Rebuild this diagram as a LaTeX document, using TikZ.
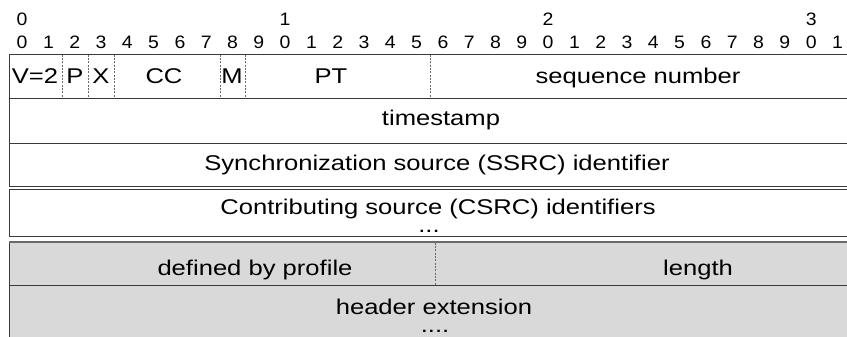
\documentclass[tikz,border=0pt]{standalone}
\usepackage{fontspec}
\setmainfont{Liberation Sans}
\definecolor{linec}{HTML}{3A3A3A}
\definecolor{sepc}{HTML}{6A6A6A}
\definecolor{shade}{HTML}{D9D9D9}
\newcommand{\wide}[1]{\scalebox{1.2}[1]{#1}}
\newcommand{\wdig}[1]{\scalebox{1.08}[1]{#1}}
\begin{document}
\begin{tikzpicture}[x=0.75pt,y=-0.75pt,
  txt/.style={inner sep=0pt, anchor=base, font=\fontsize{16}{18}\selectfont, text=black},
  dig/.style={inner sep=0pt, anchor=base, font=\fontsize{13.5}{15}\selectfont, text=black},
  rowbox/.style={draw=linec, line width=0.75pt},
  sepline/.style={draw=sepc, line width=0.5pt, dash pattern=on 1.5pt off 1pt}]
\useasboundingbox (0,0) rectangle (847,336);
\clip (0,0) rectangle (847,336);
% bit numbers
\foreach \i in {0,...,31}{
  \pgfmathtruncatemacro{\d}{mod(\i,10)}
  \node[dig] (b\i) at ({9+26.3*(\i+0.5)},48) {\wdig{\d}};
}
\foreach \i/\t in {0/0,10/1,20/2,30/3}{
  \node[dig] (t\i) at ({9+26.3*(\i+0.5)},25) {\wdig{\t}};
}
% rows
\draw[rowbox] (9,54) rectangle (870,98);
\draw[rowbox] (9,98) rectangle (870,143);
\draw[rowbox] (9,143) rectangle (870,186.5);
\draw[rowbox] (9,189) rectangle (870,236);
\draw[rowbox, fill=shade] (9,242) rectangle (870,285);
\draw[rowbox, fill=shade] (9,285) rectangle (870,345);
\draw[draw=sepc, line width=1pt] (9,242) -- (870,242);
% separators row 1
\foreach \x in {62,88,114,220,245.6,430}{
  \draw[sepline] (\x,54.5) -- (\x,97.5);
}
\draw[sepline] (435,242.5) -- (435,284.5);
% field labels
\node[txt] (v) at (35,83) {\wide{V=2}};
\node[txt] (p) at (75,83) {\wide{P}};
\node[txt] (x) at (101,83) {\wide{X}};
\node[txt] (cc) at (164,83) {\wide{CC}};
\node[txt] (m) at (232,83) {\wide{M}};
\node[txt] (pt) at (331,83) {\wide{PT}};
\node[txt] (seq) at (638,83) {\wide{sequence number}};
\node[txt] (ts) at (441,125) {\wide{timestamp}};
\node[txt] (ssrc) at (437,170) {\wide{Synchronization source (SSRC) identifier}};
\node[txt] (csrc) at (438,214) {\wide{Contributing source (CSRC) identifiers}};
\node[txt] (cdots) at (429,232.5) {\wide{...}};
\node[txt] (prof) at (255,275) {\wide{defined by profile}};
\node[txt] (len) at (698,275) {\wide{length}};
\node[txt] (hext) at (434,314) {\wide{header extension}};
\node[txt] (hdots) at (435,332.5) {\wide{....}};
\end{tikzpicture}
\end{document}
